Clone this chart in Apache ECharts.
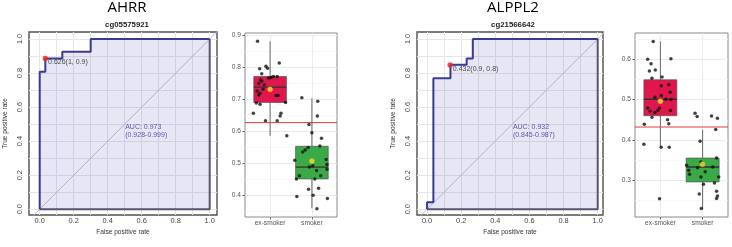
<!DOCTYPE html>
<html><head><meta charset="utf-8">
<script src="https://cdn.jsdelivr.net/npm/echarts@6/dist/echarts.min.js"></script>
<style>html,body{margin:0;padding:0;background:#fff}#c{width:732px;height:247px}</style>
</head><body><div id="c"></div>
<script>
// ---------- data ----------
const geneTitles = ['AHRR', 'ALPPL2'];
const probeIds = ['cg05575921', 'cg21566642'];
const boxCategories = ['ex-smoker', 'smoker'];
const rocTicks = [0, 0.2, 0.4, 0.6, 0.8, 1.0];
const rocGridVals = [0, 0.1, 0.2, 0.3, 0.4, 0.5, 0.6, 0.7, 0.8, 0.9, 1.0];

const ahrrFpr = [0, 0, 0.033, 0.033, 0.133, 0.133, 0.30, 0.30, 1];
const ahrrTpr = [0, 0.808, 0.808, 0.886, 0.886, 0.925, 0.925, 1, 1];
const alpFpr = [0, 0, 0.037, 0.037, 0.137, 0.137, 0.232, 0.232, 0.268, 0.268, 1];
const alpTpr = [0, 0.041, 0.041, 0.769, 0.769, 0.849, 0.849, 0.886, 0.886, 1, 1];

const cutPoints = [[0.033, 0.886], [0.135, 0.847]];
const cutLabels = ['0.626(1, 0.9)', '0.432(0.9, 0.8)'];
const aucLabels = ['AUC: 0.973\n(0.928-0.999)', 'AUC: 0.932\n(0.845-0.987)'];

// box stats: [min, q1, median, q3, max]
const ahrrBoxEx = [0.585, 0.689, 0.737, 0.770, 0.880];
const ahrrBoxSm = [0.358, 0.450, 0.487, 0.552, 0.702];
const ahrrMeans = [0.730, 0.506];
const alpBoxEx = [0.382, 0.460, 0.501, 0.549, 0.644];
const alpBoxSm = [0.230, 0.296, 0.333, 0.355, 0.425];
const alpMeans = [0.496, 0.340];
const cutoffs = [0.626, 0.432];

const ahrrBoxTicks = [0.4, 0.5, 0.6, 0.7, 0.8, 0.9];
const ahrrBoxMinor = [0.35, 0.45, 0.55, 0.65, 0.75, 0.85];
const alpBoxTicks = [0.3, 0.4, 0.5, 0.6];
const alpBoxMinor = [0.25, 0.35, 0.45, 0.55, 0.65];

const ahrrExVals = [0.880,0.794,0.779,0.802,0.796,0.812,0.760,0.756,0.748,0.744,0.730,0.725,0.718,0.712,0.765,0.766,0.768,0.770,0.770,0.711,0.711,0.687,0.683,0.689,0.655,0.655,0.647,0.632,0.632,0.585];
const ahrrExJit  = [-0.30,-0.25,-0.20,-0.10,-0.06,0.22,-0.23,-0.20,-0.27,-0.14,-0.17,-0.31,-0.24,-0.27,-0.04,0,0.04,0.08,0.17,0.14,0.19,-0.33,-0.24,0.37,-0.40,0.26,0.24,-0.11,0.17,0.40];
const ahrrSmVals = [0.704,0.693,0.647,0.620,0.594,0.577,0.553,0.548,0.540,0.534,0.508,0.511,0.495,0.487,0.491,0.476,0.480,0.460,0.460,0.450,0.450,0.418,0.421,0.395,0.399,0.389,0.357];
const ahrrSmJit  = [-0.24,0.14,0.13,-0.07,0,0.23,0.19,-0.09,-0.16,-0.22,-0.41,0.34,0.36,-0.06,0.02,0.11,0.36,0.21,-0.30,-0.37,0.07,-0.08,0.16,-0.36,0.03,0.37,0.12];
const alpExVals = [0.644,0.600,0.589,0.601,0.571,0.573,0.553,0.556,0.534,0.537,0.518,0.506,0.510,0.501,0.500,0.479,0.471,0.473,0.468,0.479,0.473,0.456,0.450,0.440,0.439,0.389,0.382,0.382,0.254];
const alpExJit  = [-0.17,-0.30,-0.22,0.25,-0.26,-0.12,-0.20,0.04,0.02,0.20,0.23,-0.13,0.02,0.13,0.25,-0.30,-0.24,-0.06,-0.13,-0.02,0.24,-0.20,0.17,0.20,-0.38,-0.39,0.02,0.21,-0.02];
const alpSmVals = [0.466,0.458,0.459,0.454,0.426,0.397,0.355,0.337,0.345,0.340,0.325,0.315,0.331,0.321,0.333,0.308,0.308,0.293,0.290,0.273,0.266,0.261,0.255,0.230];
const alpSmJit  = [-0.18,-0.13,0.21,0.35,0.31,-0.06,0.33,-0.38,-0.04,0.02,-0.33,-0.31,-0.12,0.06,0.24,0.38,-0.04,0.28,0.02,0.33,-0.08,0.35,0.33,-0.03];

// ---------- build ----------
const FONT = 'Liberation Sans';
const panels = [
  { fpr: ahrrFpr, tpr: ahrrTpr, boxEx: ahrrBoxEx, boxSm: ahrrBoxSm, means: ahrrMeans,
    exV: ahrrExVals, exJ: ahrrExJit, smV: ahrrSmVals, smJ: ahrrSmJit,
    bTicks: ahrrBoxTicks, bMinor: ahrrBoxMinor, bMin: 0.331, bMax: 0.906,
    rocX: [-0.063, 1.043],
    rocGrid: { left: 29, top: 32, width: 188, height: 183 },
    boxGrid: { left: 245, top: 33, width: 92, height: 184 },
    titleX: 127 },
  { fpr: alpFpr, tpr: alpTpr, boxEx: alpBoxEx, boxSm: alpBoxSm, means: alpMeans,
    exV: alpExVals, exJ: alpExJit, smV: alpSmVals, smJ: alpSmJit,
    bTicks: alpBoxTicks, bMinor: alpBoxMinor, bMin: 0.209, bMax: 0.665,
    rocX: [-0.059, 1.031],
    rocGrid: { left: 417, top: 32, width: 186, height: 183 },
    boxGrid: { left: 635, top: 33, width: 93, height: 184 },
    titleX: 513 }
];
const BOX_HALF = 0.39;
const BOX_XRANGE = [0.4, 2.6];
const boxColors = ['#e0174c', '#3aaa46'];

function boxRender(params, api) {
  const x = api.value(0);
  const lo = api.value(1), q1 = api.value(2), md = api.value(3), q3 = api.value(4), hi = api.value(5);
  const pHi = api.coord([x, hi]), pLo = api.coord([x, lo]);
  const pQ1 = api.coord([x, q1]), pQ3 = api.coord([x, q3]);
  const tl = api.coord([x - BOX_HALF, q3]), br = api.coord([x + BOX_HALF, q1]);
  const mL = api.coord([x - BOX_HALF, md]), mR = api.coord([x + BOX_HALF, md]);
  return { type: 'group', children: [
    { type: 'line', shape: { x1: pHi[0], y1: pHi[1], x2: pQ3[0], y2: pQ3[1] }, style: { stroke: '#666', lineWidth: 1 } },
    { type: 'line', shape: { x1: pLo[0], y1: pLo[1], x2: pQ1[0], y2: pQ1[1] }, style: { stroke: '#666', lineWidth: 1 } },
    { type: 'rect', shape: { x: tl[0], y: tl[1], width: br[0] - tl[0], height: br[1] - tl[1] }, style: { fill: api.visual('color'), stroke: '#555', lineWidth: 0.7 } },
    { type: 'line', shape: { x1: mL[0], y1: mL[1], x2: mR[0], y2: mR[1] }, style: { stroke: '#333', lineWidth: 1.4 } }
  ]};
}

const grid = [], xAxis = [], yAxis = [], series = [], graphic = [];
panels.forEach((p, i) => {
  const rg = grid.length;
  grid.push(Object.assign({ show: true, borderColor: '#505050', borderWidth: 1.4, backgroundColor: '#fff' }, p.rocGrid));
  const bg = grid.length;
  grid.push(Object.assign({ show: true, borderColor: '#8a8a8a', borderWidth: 1, backgroundColor: '#fff' }, p.boxGrid));

  const rx = xAxis.length;
  xAxis.push({ type: 'value', gridIndex: rg, min: p.rocX[0], max: p.rocX[1],
    name: 'False positive rate', nameLocation: 'middle', nameGap: 12,
    nameTextStyle: { fontFamily: FONT, fontSize: 6.6, color: '#333' },
    axisLine: { show: false }, axisTick: { show: false, customValues: rocGridVals },
    axisLabel: { customValues: rocTicks, margin: 2, fontFamily: FONT, fontSize: 7.4, color: '#444', formatter: v => v.toFixed(1) },
    splitLine: { show: true, lineStyle: { color: '#e6e6e6', width: 1 } } });
  const bx = xAxis.length;
  xAxis.push({ type: 'value', gridIndex: bg, min: BOX_XRANGE[0], max: BOX_XRANGE[1],
    axisLine: { show: false }, axisTick: { show: true, length: 2.5, customValues: [1, 2], lineStyle: { color: '#666' } },
    axisLabel: { customValues: [1, 2], margin: 3, fontFamily: FONT, fontSize: 6.6, color: '#555', formatter: v => boxCategories[Math.round(v) - 1] },
    splitLine: { show: true, lineStyle: { color: '#ececec', width: 1 } } });

  const ry = yAxis.length;
  yAxis.push({ type: 'value', gridIndex: rg, min: -0.034, max: 1.041,
    name: 'True positive rate', nameLocation: 'middle', nameGap: 20, nameRotate: 90,
    nameTextStyle: { fontFamily: FONT, fontSize: 6.6, color: '#333' },
    axisLine: { show: false }, axisTick: { show: false, customValues: rocGridVals },
    axisLabel: { customValues: rocTicks, rotate: 90, margin: 6, fontFamily: FONT, fontSize: 7.4, color: '#444', formatter: v => v.toFixed(1) },
    splitLine: { show: true, lineStyle: { color: '#e6e6e6', width: 1 } } });
  const by = yAxis.length;
  yAxis.push({ type: 'value', gridIndex: bg, min: p.bMin, max: p.bMax,
    axisLine: { show: false }, axisTick: { show: true, length: 2.5, customValues: p.bTicks, lineStyle: { color: '#666' } },
    axisLabel: { customValues: p.bTicks, margin: 4, fontFamily: FONT, fontSize: 6.6, color: '#555', formatter: v => v.toFixed(1) },
    splitLine: { show: true, lineStyle: { color: '#ebebeb', width: 1 } } });
  yAxis.push({ type: 'value', gridIndex: bg, min: p.bMin, max: p.bMax,
    axisLine: { show: false }, axisTick: { show: false, customValues: p.bMinor }, axisLabel: { show: false },
    splitLine: { show: true, lineStyle: { color: '#f5f5f5', width: 0.7 } } });

  // ROC
  series.push({ type: 'line', xAxisIndex: rx, yAxisIndex: ry, data: [[-0.2, -0.2], [1.2, 1.2]],
    symbol: 'none', silent: true, z: 1, lineStyle: { color: '#c0c0d2', width: 1 } });
  series.push({ type: 'line', xAxisIndex: rx, yAxisIndex: ry, data: p.fpr.map((f, k) => [f, p.tpr[k]]),
    symbol: 'none', silent: true, z: 3, lineStyle: { color: '#3a3a94', width: 2 },
    areaStyle: { color: 'rgba(90,90,190,0.22)' } });
  series.push({ type: 'line', xAxisIndex: rx, yAxisIndex: ry, data: [[0, 0], [1, 0], [1, 1]],
    symbol: 'none', silent: true, z: 2, lineStyle: { color: '#56566a', width: 2 } });
  series.push({ type: 'scatter', xAxisIndex: rx, yAxisIndex: ry, data: [cutPoints[i]], symbolSize: 5.5, z: 5,
    itemStyle: { color: '#e8262a' },
    label: { show: true, formatter: cutLabels[i], position: 'right', distance: 0, offset: [0, 4],
      fontFamily: FONT, fontSize: 7, color: '#222' } });
  series.push({ type: 'scatter', xAxisIndex: rx, yAxisIndex: ry, data: [[0.5, 0.46]], symbolSize: 1, z: 5,
    itemStyle: { color: 'rgba(0,0,0,0)' },
    label: { show: true, formatter: aucLabels[i], position: 'right', distance: 0, align: 'left',
      fontFamily: FONT, fontSize: 7, lineHeight: 8.5, color: '#3535a0' } });

  // Box panel
  series.push({ type: 'custom', xAxisIndex: bx, yAxisIndex: by, renderItem: boxRender, z: 2,
    encode: { x: 0, y: [1, 2, 3, 4, 5] },
    data: [ { value: [1].concat(p.boxEx), itemStyle: { color: boxColors[0] } },
            { value: [2].concat(p.boxSm), itemStyle: { color: boxColors[1] } } ] });
  series.push({ type: 'line', xAxisIndex: bx, yAxisIndex: by, symbol: 'none', silent: true, z: 6,
    lineStyle: { color: '#e8383d', width: 1 }, itemStyle: { color: '#e8383d' },
    data: [[BOX_XRANGE[0], cutoffs[i]], [BOX_XRANGE[1], cutoffs[i]]] });
  series.push({ type: 'scatter', xAxisIndex: bx, yAxisIndex: by, symbolSize: 3.5, z: 4,
    itemStyle: { color: '#111' },
    data: p.exV.map((v, k) => [1 + p.exJ[k], v]).concat(p.smV.map((v, k) => [2 + p.smJ[k], v])) });
  series.push({ type: 'scatter', xAxisIndex: bx, yAxisIndex: by, symbolSize: 5, z: 5,
    itemStyle: { color: '#ffe030', borderColor: '#f2b020', borderWidth: 0.5 },
    data: [[1, p.means[0]], [2, p.means[1]]] });

  graphic.push({ type: 'text', x: p.titleX, y: 8, style: { text: geneTitles[i], textAlign: 'center', textVerticalAlign: 'middle',
    font: '15px "Open Sans"', fill: '#000' } });
  graphic.push({ type: 'text', x: p.titleX, y: 25, style: { text: probeIds[i], textAlign: 'center', textVerticalAlign: 'middle',
    font: 'bold 7.8px "Liberation Sans"', fill: '#222' } });
});

const chart = echarts.init(document.getElementById('c'), null, { renderer: 'canvas' });
chart.setOption({ animation: false, backgroundColor: '#fff', grid, xAxis, yAxis, series, graphic });
</script></body></html>
